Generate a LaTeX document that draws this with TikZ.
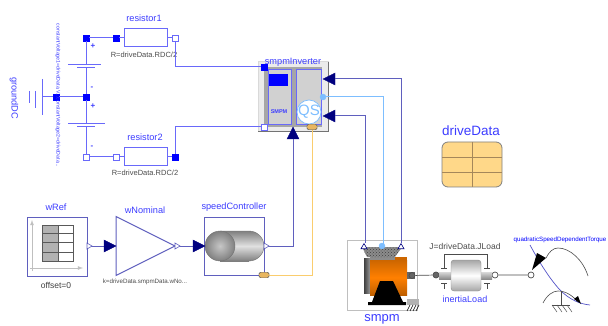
\documentclass[tikz,border=0pt]{standalone}
\usepackage{fontspec}
\setmainfont{Liberation Sans}
\usetikzlibrary{calc,shapes.geometric,patterns}
\definecolor{mblue}{RGB}{0,0,255}
\definecolor{wireb}{RGB}{105,105,250}
\definecolor{labb}{RGB}{60,60,255}
\definecolor{navy}{RGB}{0,0,127}
\definecolor{frame}{RGB}{95,95,190}
\definecolor{lblue}{RGB}{125,190,255}
\definecolor{yel}{RGB}{250,205,110}
\definecolor{ddfill}{RGB}{255,216,137}
\definecolor{ddline}{RGB}{165,135,90}
\tikzset{
 x=1pt,y=-1pt,
 elec/.style={draw=wireb,line width=1pt},
 sig/.style={draw=frame,line width=1pt},
 pfill/.style={draw=mblue,fill=mblue,minimum size=6pt,inner sep=0,rectangle},
 pwhite/.style={draw=wireb,fill=white,minimum size=6pt,inner sep=0,rectangle},
 lab/.style={text=labb,inner sep=0,font=\fontsize{9.2}{10}\selectfont},
 dark/.style={inner sep=0,text=black!70,font=\fontsize{7.5}{8}\selectfont},
 resbox/.style={draw=wireb,line width=1pt,fill=white,minimum width=43pt,minimum height=18pt,inner sep=0},
 sigin/.style={fill=navy,draw=navy},
 sigout/.style={fill=white,draw=frame,line width=.6pt},
 blockbox/.style={draw=frame,line width=1pt,fill=white,inner sep=0},
 pointdot/.style={circle,minimum size=6pt,inner sep=0,draw=black!70,fill=white,line width=.7pt},
 pointdark/.style={circle,minimum size=6pt,inner sep=0,draw=black!70,fill=black!60,line width=.7pt},
 busport/.style={draw=black!60,fill=yel!70!brown,rounded corners=1.5pt,minimum width=10pt,minimum height=5.5pt,inner sep=0},
}
\begin{document}
\begin{tikzpicture}
\useasboundingbox (0,0) rectangle (608,326);
% inverter
\node[draw=black!15,fill=black!8,line width=0pt,minimum width=70pt,minimum height=70pt,inner sep=0] (inv) at (293,97) {};
\draw[black!55,line width=1pt] (inv.south west)--(inv.south east)--(inv.north east);
\fill[black!35] (264,67) rectangle (322,127);
\draw[wireb,fill=black!18,line width=1pt] (268,70) rectangle (291,125);
\draw[wireb,fill=black!18,line width=1pt] (296,70) rectangle (321,125);
\fill[mblue] (269,74) rectangle (288,86);
\node[lab,font=\fontsize{5.5}{6}\bfseries\selectfont] at (279,112) {SMPM};
\node[circle,draw=lblue,fill=white,minimum size=24pt,inner sep=0,line width=.7pt] (qs) at (309,112) {};
\node[inner sep=0,text=lblue,font=\fontsize{15}{15}\selectfont] at (309,112) {QS};
\node[lab,font=\fontsize{9.2}{10}\selectfont] at (293,62) {smpmInverter};
\node[pfill] (invp) at (264,67) {};
\node[pwhite] (invn) at (264,127) {};
\node[circle,fill=lblue,draw=lblue,minimum size=6pt,inner sep=0] (invi) at (323,97) {};
\node[busport] (invbus) at (312,127) {};
\coordinate (invA) at (335,79);
\coordinate (invB) at (335,116);
\coordinate (invC) at (293,139);
\path[sigin] (323,79)--(335,73)--(335,85)--cycle;
\path[sigin] (323,116)--(335,110)--(335,122)--cycle;
\path[sigin] (293,127)--(287,139)--(299,139)--cycle;
% resistors
\node[resbox] (r1) at (145.5,38) {};
\node[resbox] (r2) at (145.5,157) {};
\node[lab] at (144,18) {resistor1};
\node[lab] at (145,137) {resistor2};
\node[dark] at (144,54.500) {R=driveData.RDC/2};
\node[dark] at (145,173) {R=driveData.RDC/2};
\node[pfill] (r1a) at (116,38) {};
\node[pwhite] (r1b) at (175,38) {};
\node[pwhite] (r2a) at (116,157) {};
\node[pfill] (r2b) at (175,157) {};
% battery
\coordinate (pl1) at (86,65);
\coordinate (pl1s) at (86,68);
\coordinate (pl2) at (86,124);
\coordinate (pl2s) at (86,127);
\node[pfill] (bt) at (86,38) {};
\node[pfill] (bm) at (86,97) {};
\node[pwhite] (bb) at (86,157) {};
\draw[elec] (bt)--(pl1) (pl1s)--(bm)--(pl2) (pl2s)--(bb);
\draw[elec] (68,65)--(101,65) (77,68)--(95,68) (68,124)--(105,124) (77,127)--(95,127);
\draw[elec] (bt)--(r1a) (bb)--(r2a);
\draw[elec] (r1a)--(r1) (r2a)--(r2) (r1)--(r1b) (r2)--(r2b);
\draw[elec] (r1b)--(175,67)--(invp);
\draw[elec] (r2b)--(175,127)--(invn);
\node[lab,font=\fontsize{8}{8}\bfseries\selectfont] at (93,46) {+};
\node[lab,font=\fontsize{8}{8}\bfseries\selectfont] at (92,88) {-};
\node[lab,font=\fontsize{8}{8}\bfseries\selectfont] at (93,106) {+};
\node[lab,font=\fontsize{8}{8}\bfseries\selectfont] at (92,147) {-};
% ground
\node[pfill] (gnd) at (56,97) {};
\coordinate (gp) at (42,97);
\draw[elec] (bm)--(gnd)--(gp);
\draw[elec] (42,79)--(42,115) (35,91)--(35,108) (29,91)--(29,103);
\node[lab,rotate=-90] at (14,98) {groundDC};
\node[lab,rotate=-90,font=\fontsize{5.2}{6}\selectfont] at (58,95.500) {constantVoltage1=driveData.V...constantVoltage2=driveData...};
% wRef
\node[blockbox,minimum width=60pt,minimum height=59pt] (wref) at (57,246.5) {};
\draw[black!25,line width=.8pt,-latex] (30,268)--(83,268);
\draw[black!25,line width=.8pt,-latex] (32,271)--(32,220);
\fill[black!30] (42,225) rectangle (58,261);
\draw[black!65,line width=.7pt] (42,225) rectangle (73,261) (58,225)--(58,261) (42,233)--(73,233) (42,242)--(73,242) (42,252)--(73,252);
\node[lab] at (56,207) {wRef};
\node[inner sep=0,text=black!75,font=\fontsize{8.500}{9}\selectfont] at (56,285) {offset=0};
% wNominal
\node[lab] at (145,210) {wNominal};
\draw[frame,line width=1pt,fill=white] (116,216.500)--(175,246)--(116,275.500)--cycle;
\node[dark,font=\fontsize{6.2}{7}\selectfont] at (145,282) {k=driveData.smpmData.wNo...};
% speedController
\node[blockbox,minimum width=60pt,minimum height=58pt] (sc) at (234,246) {};
\shade[top color=black!50,bottom color=black!50,middle color=black!12] (249,231) arc (-90:90:15) -- cycle;
\shade[top color=black!50,bottom color=black!50,middle color=black!12] (220,231) rectangle (249,261);
\shade[inner color=black!22,outer color=black!50] (220,246) circle (15);
\draw[black!55,line width=.4pt] (220,231)--(249,231) arc (-90:90:15)--(220,261);
\draw[black!55,line width=.4pt] (220,246) circle (15);
\node[lab] at (234,207) {speedController};
\node[busport] (scbus) at (264,275) {};
\coordinate (scout) at (264,246);
% signal connections
\draw[sig] (87,246)--(104,246);
\path[sigin] (116,246)--(104,240)--(104,252)--cycle;
\path[sigout] (87,243)--(92,246)--(87,249)--cycle;
\draw[sig] (175,246)--(193,246);
\path[sigin] (205,246)--(193,240)--(193,252)--cycle;
\path[sigout] (175,243)--(180,246)--(175,249)--cycle;
\draw[sig] (264,246)--(invC |- scout)--(invC);
\path[sigout] (264,243)--(269,246)--(264,249)--cycle;
\draw[yel,line width=1pt] (scbus)--(312,275)--(invbus);
\node[busport] at (264,275) {};
\node[busport] at (312,127) {};
% smpm
\node[draw=black!25,fill=white,line width=1pt,minimum width=70pt,minimum height=70pt,inner sep=0] (smpmb) at (382,275) {};
\fill[black!45] (362,247)--(402,247)--(395,257)--(395,260)--(370,260)--(370,257)--(367,257)--cycle;
\path[pattern=crosshatch dots,pattern color=black!75] (362,247)--(402,247)--(395,257)--(367,257)--cycle;
\shade[left color=black!75,right color=black!40] (364,258) rectangle (370,293);
\shade[top color=orange!80!black,bottom color=orange!75!black,middle color=orange] (370,260) rectangle (407,295);
\fill[orange!80!black] (395,257) rectangle (407,260);
\fill[black] (380,281)--(393,281)--(403,302)--(406,302)--(406,305)--(368,305)--(368,302)--(372,302)--cycle;
\fill[black!60] (407,272) rectangle (415,279);
\fill[black!30] (407,299) rectangle (419,305);
\foreach \h in {407,410,413,416} \draw[black,line width=.6pt] (\h,311)--(\h+3,305);
\node[pointdark] (mflange) at (412,275.500) {};
\node[inner sep=0,text=labb,font=\fontsize{13}{13}\selectfont] at (382,319) {smpm};
\node[regular polygon,regular polygon sides=3,draw=navy,fill=white,minimum size=7pt,inner sep=0,line width=.6pt] (mA) at (364,247) {};
\node[regular polygon,regular polygon sides=3,draw=navy,fill=white,minimum size=7pt,inner sep=0,line width=.6pt] (mC) at (401,247) {};
\node[circle,fill=lblue,draw=lblue,minimum size=6pt,inner sep=0] (mI) at (382,246) {};
\draw[sig] (invA)--(401,79)--(mC);
\draw[sig] (invB)--(365,116)--(365,243);
\draw[lblue,line width=1pt] (invi)--(383,97)--(383,246);
% inertia
\node[pointdark] (ia) at (436,275) {};
\node[pointdot] (ib) at (495,275) {};
\node[pointdot] (tq) at (531,275) {};
\draw[black!70,line width=.7pt] (mflange)--(ia) (ib)--(tq);
\shade[top color=black!15,bottom color=black!45] (439,272) rectangle (492,279);
\node[draw=black!45,rounded corners=3pt,minimum width=30pt,minimum height=31pt,inner sep=0,top color=black!35,bottom color=black!35,middle color=white] (inertia) at (466,275.500) {};
\draw[black!70,line width=.6pt] (444,268)--(444,254)--(487,254)--(487,268);
\draw[black!70,line width=.6pt] (441,268)--(447,268) (484,268)--(490,268);
\draw[black!70,line width=.6pt] (441,283)--(447,283) (444,283)--(444,289) (484,283)--(490,283) (487,283)--(487,289);
\node[dark,font=\fontsize{8.500}{9}\selectfont] at (465,246) {J=driveData.JLoad};
\node[lab,font=\fontsize{9}{9}\selectfont] at (465,299.500) {inertiaLoad};
% torque
\node[lab,font=\fontsize{6.2}{7}\selectfont,text=mblue] at (560,240) {quadraticSpeedDependentTorque};
\draw[wireb!80!black,line width=.7pt] (530,245) .. controls (537,258) and (548,277) .. (560,290) .. controls (570,300) and (580,304) .. (590,305);
\fill[black] (532,270)--(537,253)--(546,258)--cycle;
\draw[black!70,line width=.6pt] (546,258) .. controls (549,252) and (553,248) .. (558,248) .. controls (570,248) and (583,260) .. (588,276);
\draw[black!70,line width=.6pt] (543,303) .. controls (547,295) and (553,291) .. (558,291) .. controls (566,291) and (573,296) .. (578,302);
\fill[black] (574,299)--(578,296)--(581,304)--cycle;
\draw[black!70,line width=.6pt] (561,291)--(561,305) (552,305)--(570,305);
\foreach \h in {552,557,562,567} \draw[black!70,line width=.5pt] (\h,305)--(\h+5,312);
% driveData
\node[inner sep=0,text=labb,font=\fontsize{13.5}{14}\selectfont] at (471,131) {driveData};
\node[draw=black!50,fill=ddfill,rounded corners=6pt,line width=.8pt,minimum width=60pt,minimum height=45pt,inner sep=0] (dd) at (472,164.500) {};
\draw[ddline,line width=.8pt] (472,142)--(472,187) (442,157)--(502,157) (442,172)--(502,172);
\end{tikzpicture}
\end{document}
